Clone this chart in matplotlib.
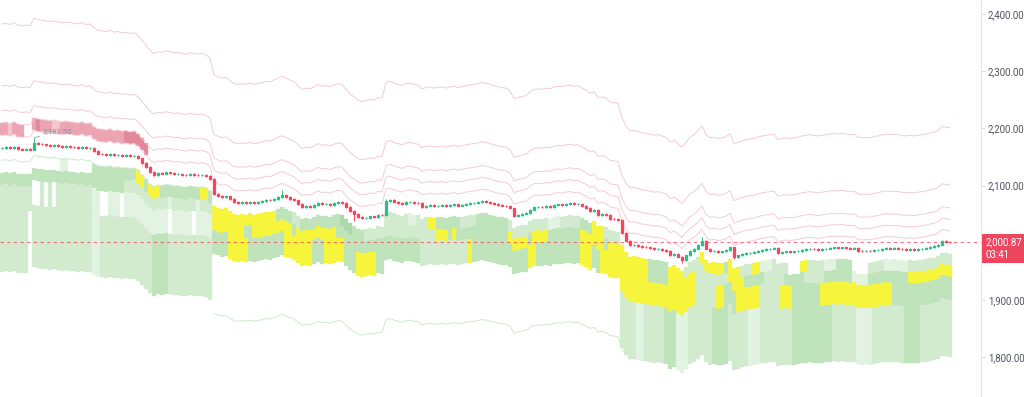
import numpy as np
import matplotlib
matplotlib.use("Agg")
import matplotlib.pyplot as plt
from matplotlib.transforms import blended_transform_factory

plt.rcParams["font.family"] = ["Roboto", "DejaVu Sans"]

# candle closes, one per bar
closes = np.array([
    2166, 2167, 2165, 2168, 2164, 2163, 2164, 2163,
    2175,
    2173, 2172, 2171, 2170, 2171, 2169, 2168, 2169, 2168, 2167, 2166, 2168, 2165, 2166,
    2160, 2156, 2155, 2154, 2156, 2153, 2154, 2152, 2153, 2151, 2152, 2148, 2140, 2132,
    2124, 2119, 2122, 2121, 2123, 2122, 2120, 2121, 2119, 2118, 2120, 2119, 2118, 2119,
    2117, 2112, 2085,
    2082, 2080, 2081, 2076, 2071, 2070, 2071, 2070, 2072, 2070, 2071, 2073, 2075, 2074,
    2077, 2080, 2083, 2080, 2077, 2074, 2068, 2062, 2064, 2063, 2066, 2070, 2067, 2068,
    2066, 2069, 2071,
    2070, 2062, 2055, 2050, 2045, 2043, 2044, 2046, 2045, 2049, 2048, 2073, 2075, 2072,
    2070, 2068, 2071, 2072, 2070, 2069, 2063, 2065, 2066, 2064, 2065, 2066, 2064, 2066,
    2067, 2065,
    2066, 2068, 2069, 2070, 2071, 2073, 2072, 2070, 2068, 2066, 2065, 2064, 2060, 2047,
    2049, 2051, 2052, 2058, 2062, 2063, 2062, 2064, 2063, 2066, 2067, 2066, 2068, 2069,
    2067, 2068,
    2064, 2061, 2056, 2058, 2049, 2050, 2048, 2042, 2041, 2040,
    2017, 2004, 1996, 1997, 1995, 1993, 1992, 1991, 1989, 1990,
    1988, 1986, 1978, 1981, 1976, 1970, 1978, 1986, 1990, 1996,
    2004, 1990, 1985, 1986, 1984, 1985, 1987, 1992, 1975, 1978,
    1980, 1982, 1983, 1984, 1986, 1988, 1989, 1990, 1991, 1982,
    1984, 1985, 1984, 1985, 1986, 1988, 1989, 1990, 1989, 1988,
    1989, 1990, 1991, 1992, 1991, 1992, 1991, 1990, 1991, 1986,
    1985, 1986, 1985, 1987, 1988, 1990, 1991, 1990, 1991, 1990,
    1989, 1988, 1989, 1988, 1989, 1990, 1991, 1993, 1994, 1997,
    2003, 2002, 2000.87,
])
first_open = 2165
high_marks = {8: 2183.5, 53: 2113, 70: 2092, 96: 2076, 155: 2041, 175: 2010}
low_marks = {88: 2038, 170: 1964, 183: 1972}
last_price = 2000.87
price_label = "2,000.87\n03:41"
high_label = "2,183.50"
axis_ticks = [1800, 1900, 2100, 2200, 2300, 2400]

# liquidation level offsets (fraction of price): 100x, 50x, 33x, 20x, 10x
levels = [0.01, 0.02, 0.03, 0.05, 0.10]

# heatmap cell codes per bar, run-length "code:count"
upper_band = ("b:2 a:1 b:3 0:2 b:1 c:1 b:3 a:2 b:8 b:8 c:6 0:16 0:185")
row0 = ("0:15 1:2 0:6 3:11 y:2 3:1 y:3 3:10 y:2 3:1 "
        "y:16 3:4 2:2 3:10 4:3 3:3 2:11 1:2 2:3 y:2 3:6 2:4 3:8 2:10 1:3 2:5 3:3 y:3 2:4 "
        "y:7 3:5 y:4 2:4 y:6 3:1 y:3 2:3 y:2 1:3 2:4 0:3 y:2 2:4 1:3 3:4 0:4 2:4 1:6 2:11")
row1 = ("3:23 3:8 2:7 2:4 1:1 2:6 1:1 2:3 "
        "y:8 3:2 y:10 3:1 y:10 3:12 2:13 y:3 3:1 y:1 3:13 y:5 3:1 y:4 3:8 y:6 3:1 y:3 "
        "y:7 3:5 y:7 2:8 y:4 3:5 2:5 3:5 2:5 3:7 1:4 3:10 y:11")
row2 = ("2:8 0:2 2:1 0:1 2:1 0:1 2:9 1:2 0:2 1:3 0:1 1:7 1:4 0:1 1:5 0:1 1:4 "
        "3:4 y:5 3:9 y:7 3:3 y:5 3:3 y:5 3:11 2:12 y:1 3:14 y:2 3:11 y:3 3:2 y:5 "
        "y:19 2:5 y:2 3:3 y:6 2:5 y:3 3:7 y:18 3:15")
row3 = ("2:7 0:1 2:15 1:2 2:13 3:4 2:11 "
        "0:102 "
        "2:4 1:2 2:5 3:3 1:3 2:6 3:4 2:5 1:3 2:8 3:10 2:6 1:4 2:8 3:4 2:8")

palette = {"1": "#e3f3e1", "2": "#d2ebcf", "3": "#bfe3bb", "4": "#acdaa8",
           "y": "#f6f53c", "a": "#f3c5cd", "b": "#eca4b2", "c": "#e3889b"}
GREEN, RED = "#2ebd85", "#f6465d"

N = len(closes)
idx = np.arange(N)


def cells(spec):
    s = "".join(c * int(k) for c, k in (t.split(":") for t in spec.split()))
    return np.array(list((s + "0" * N)[:N]))


fig = plt.figure(figsize=(10.24, 3.97), dpi=100)
ax = fig.add_axes([0, 0, 981 / 1024, 1])


def draw_cells(spec, top, bot):
    codes = cells(spec)
    m = codes != "0"
    cols = [palette[c] for c in codes[m]]
    ax.bar(idx[m], (top - bot)[m], bottom=bot[m], width=1.0, color=cols,
           edgecolor=cols, linewidth=0.2, zorder=1)


draw_cells(upper_band, closes * (1 + levels[1]), closes * (1 + levels[0]))
for k, spec in enumerate([row0, row1, row2, row3]):
    draw_cells(spec, closes * (1 - levels[k]), closes * (1 - levels[k + 1]))

# upper liquidation lines
for f in levels:
    ax.plot(idx, closes * (1 + f), color="#f4ccd3", lw=0.7, zorder=2)
# lower guide lines
ax.plot(idx[:53], closes[:53] * (1 - levels[0]), color="#cdeacb", lw=0.7, zorder=2)
ax.plot(idx[53:157], closes[53:157] * (1 - levels[-1]), color="#cdeacb", lw=0.7, zorder=2)

# current price dashed line
ax.axhline(last_price, color=RED, lw=0.8, ls=(0, (3, 3)), alpha=0.75, zorder=3)

# candles
opens = np.r_[first_open, closes[:-1]]
highs = np.maximum(opens, closes) + 1.5
lows = np.minimum(opens, closes) - 1.5
for i, v in high_marks.items():
    highs[i] = v
for i, v in low_marks.items():
    lows[i] = v
ccol = np.where(closes >= opens, GREEN, RED)
ax.vlines(idx, lows, highs, colors=ccol, lw=0.7, zorder=4)
ax.bar(idx, closes - opens, bottom=opens, width=0.55, color=ccol,
       edgecolor=ccol, linewidth=0.9, zorder=5)

# high marker
ax.annotate(high_label, xy=(8, high_marks[8]), xytext=(6, 4.5),
            textcoords="offset points", fontsize=5.6, color="#8c8f99",
            va="center", ha="left", zorder=10,
            arrowprops=dict(arrowstyle="-", color="#9a9da6", lw=0.6,
                            shrinkA=0, shrinkB=0))

# price label on the axis
trans = blended_transform_factory(ax.transAxes, ax.transData)
ax.annotate(price_label, xy=(1, last_price), xycoords=trans, xytext=(3, 4),
            textcoords="offset points", ha="left", va="top", fontsize=6.9,
            color="white", linespacing=1.45, annotation_clip=False, zorder=10,
            bbox=dict(boxstyle="square,pad=0.3", fc="#ef4660", ec="none"))

ax.set_xlim(-0.5, 244.75)
ax.set_ylim(1730.4, 2424.5)
ax.set_xticks([])
ax.set_yticks(axis_ticks)
ax.yaxis.tick_right()
ax.yaxis.set_major_formatter(matplotlib.ticker.FuncFormatter(lambda v, p: f"{v:,.2f}"))
ax.tick_params(axis="y", length=3, width=0.6, color="#d5d7dc", pad=2,
               labelsize=6.9, labelcolor="#4f525c")
for s in ["top", "left", "bottom"]:
    ax.spines[s].set_visible(False)
ax.spines["right"].set_color("#e3e5ea")
ax.spines["right"].set_linewidth(0.8)

fig.savefig("out.png", dpi=100, facecolor="white")
